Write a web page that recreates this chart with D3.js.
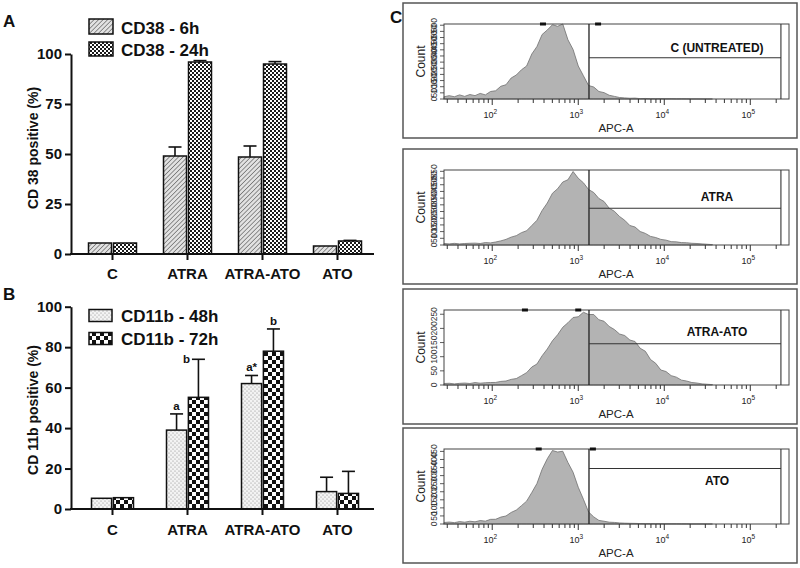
<!DOCTYPE html>
<html><head><meta charset="utf-8">
<script src="https://cdn.jsdelivr.net/npm/d3@7"></script>
<style>body{margin:0;background:#fff} svg{display:block;font-family:"Liberation Sans",Arial,sans-serif}</style>
</head><body><svg id="c" width="800" height="568"></svg>
<script>
// ---------- DATA ----------
const categories = ["C", "ATRA", "ATRA-ATO", "ATO"];
// Panel A
const seriesA = ["CD38 - 6h", "CD38 - 24h"];
const cd38_6h = [5.5, 49, 48.5, 4];
const cd38_6h_err = [0, 4.5, 5.5, 0];
const cd38_24h = [5.5, 96, 95, 6.5];
const cd38_24h_err = [0, 0.7, 1.2, 0.3];
const ticksA = [0, 25, 50, 75, 100];
// Panel B
const seriesB = ["CD11b - 48h", "CD11b - 72h"];
const cd11b_48h = [5.3, 39, 62, 8.6];
const cd11b_48h_err = [0, 8, 4, 7.1];
const cd11b_72h = [5.6, 55.2, 78, 7.7];
const cd11b_72h_err = [0, 18.8, 11, 10.9];
const ticksB = [0, 20, 40, 60, 80, 100];
const annot48h = ["", "a", "a*", ""];
const annot72h = ["", "b", "b", ""];
// Panel C (flow histograms, % of axis max, bins on log10 APC-A)
const binLog = [1.44,1.50,1.56,1.62,1.68,1.74,1.80,1.86,1.92,1.98,2.04,2.10,2.16,2.22,2.28,2.34,2.40,2.46,2.52,2.58,2.64,2.70,2.76,2.82,2.88,2.94,3.00,3.06,3.12,3.18,3.24,3.30,3.36,3.42,3.48,3.54,3.60,3.66,3.72,3.78,3.84,3.90,3.96,4.02,4.08,4.14,4.20,4.26,4.32,4.38,4.44,4.50,4.56];
const histC = [3,4.5,3,5.5,3.5,6,4.5,7.5,5.5,10, 11,17,19,28,32,39,44,60,70,86, 92,99,97,100,79,66,44,31,18,16, 10,8.5,5,3.5,2,1.5,1,1.2,0.5,0.7, 0.4,0.3,0.5,0.3,0.4,0.2,0.3,0.2,0.1,0.1, 0,0,0];
const histATRA = [2,1.5,2.2,1.5,2,2.3,2.5,2,3.2,2.8, 4,5.5,7.5,10.5,12.5,16.5,19,26,33,46, 56,69,75,84,87,98,89,83,74,70, 62,58,49,45,38,33,26,24,18,15.5, 11.5,10,7.5,6.5,4.5,4.2,3.2,3,2.3,2, 1.5,1,0.5];
const histATRAATO = [2,2.3,1.5,2.2,2.6,2,3.2,2.4,3,3.3, 3.4,4.8,5.3,7.5,8.6,12.5,16.5,24,28,39, 48,59,67,77,83,90,91,97,94,94, 87,85,78,74,68,66,60,58,49,45, 34,29,20,18,12.5,10.5,6.5,5.3,3.3,2.6, 1.5,1,0.5];
const histATO = [2,2.6,1.8,3.2,2.4,3.7,2.9,4.6,3.8,6.2, 6.3,9.2,10.7,15.4,18.6,24.5,30.5,42,54,73, 87,98,96,97,82,69,49,33,16,9.5, 4.8,3.7,2.4,2.1,1.4,1.1,0.9,0.8,0.6,0.5, 0.5,0.4,0.4,0.3,0.3,0.3,0.2,0.2,0.1,0.1, 0.1,0,0];
const histNames = ["C (UNTREATED)", "ATRA", "ATRA-ATO", "ATO"];
const countMax = [610, 560, 265, 465];
const gateLow = 1333, gateHigh = 227000;
const gateLevel = [55, 49, 55, 74];
const topMarks = [[389, 1700], [], [240, 1000], [347, 1480]];

// ---------- DRAW ----------
const svg = d3.select("#c");
const defs = svg.append("defs");
// patterns
const pHatch = defs.append("pattern").attr("id","hatch").attr("patternUnits","userSpaceOnUse")
  .attr("width",3.2).attr("height",3.2).attr("patternTransform","rotate(45)");
pHatch.append("rect").attr("width",3.2).attr("height",3.2).attr("fill","#e2e2e2");
pHatch.append("line").attr("x1",0).attr("y1",0).attr("x2",0).attr("y2",3.2).attr("stroke","#555").attr("stroke-width",1.2);
const pFine = defs.append("pattern").attr("id","fine").attr("patternUnits","userSpaceOnUse").attr("width",4).attr("height",4);
pFine.append("rect").attr("width",4).attr("height",4).attr("fill","#fff");
pFine.append("rect").attr("width",2).attr("height",2).attr("fill","#1a1a1a");
pFine.append("rect").attr("x",2).attr("y",2).attr("width",2).attr("height",2).attr("fill","#1a1a1a");
const pDots = defs.append("pattern").attr("id","dots").attr("patternUnits","userSpaceOnUse").attr("width",4).attr("height",4);
pDots.append("rect").attr("width",4).attr("height",4).attr("fill","#f3f3f3");
pDots.append("circle").attr("cx",1).attr("cy",1).attr("r",0.6).attr("fill","#888");
pDots.append("circle").attr("cx",3).attr("cy",3).attr("r",0.6).attr("fill","#888");
const pCoarse = defs.append("pattern").attr("id","coarse").attr("patternUnits","userSpaceOnUse").attr("width",8).attr("height",8);
pCoarse.append("rect").attr("width",8).attr("height",8).attr("fill","#fff");
pCoarse.append("rect").attr("width",4).attr("height",4).attr("fill","#111");
pCoarse.append("rect").attr("x",4).attr("y",4).attr("width",4).attr("height",4).attr("fill","#111");

function barPanel(cfg) {
  const g = svg.append("g");
  const y = d3.scaleLinear().domain([0, 100]).range([cfg.y0, cfg.y1]);
  const x0 = d3.scaleBand().domain(categories).range([75, 375]).paddingInner(cfg.pi).paddingOuter(cfg.pi / 2);
  const x1 = d3.scaleBand().domain([0, 1]).range([0, x0.bandwidth()]).paddingInner(cfg.gap);
  cfg.values.forEach((vals, si) => {
    const errs = cfg.errs[si];
    const cx = c => x0(c) + x1(si) + x1.bandwidth() / 2;
    const gg = g.append("g");
    const withErr = categories.filter((c, i) => errs[i] > 0);
    gg.selectAll("line.stem").data(withErr).join("line")
      .attr("x1", cx).attr("x2", cx)
      .attr("y1", c => y(vals[categories.indexOf(c)]))
      .attr("y2", c => y(vals[categories.indexOf(c)] + errs[categories.indexOf(c)]))
      .attr("stroke", "#111").attr("stroke-width", 1.6);
    gg.selectAll("line.cap").data(withErr).join("line")
      .attr("x1", c => cx(c) - 6.5).attr("x2", c => cx(c) + 6.5)
      .attr("y1", c => y(vals[categories.indexOf(c)] + errs[categories.indexOf(c)]))
      .attr("y2", c => y(vals[categories.indexOf(c)] + errs[categories.indexOf(c)]))
      .attr("stroke", "#111").attr("stroke-width", 1.6);
    gg.selectAll("rect").data(categories).join("rect")
      .attr("x", c => x0(c) + x1(si)).attr("width", x1.bandwidth())
      .attr("y", (c, i) => y(vals[i])).attr("height", (c, i) => cfg.y0 - y(vals[i]))
      .attr("fill", `url(#${cfg.patterns[si]})`).attr("stroke", "#111").attr("stroke-width", 1.5);
    if (cfg.annots) {
      const an = cfg.annots[si];
      gg.selectAll("text.an").data(categories.filter((c, i) => an[i])).join("text")
        .attr("x", c => {
          const i = categories.indexOf(c);
          return (cfg.annotLeft && cfg.annotLeft[si][i]) ? cx(c) - 8.5 : cx(c);
        })
        .attr("y", c => {
          const i = categories.indexOf(c);
          const yy = y(vals[i] + errs[i]);
          return (cfg.annotLeft && cfg.annotLeft[si][i]) ? yy + 4 : yy - 4;
        })
        .attr("text-anchor", c => {
          const i = categories.indexOf(c);
          return (cfg.annotLeft && cfg.annotLeft[si][i]) ? "end" : "middle";
        })
        .attr("font-size", 11.5).attr("font-weight", "bold").attr("fill", "#111")
        .text(c => an[categories.indexOf(c)]);
    }
  });
  // axes
  const ya = g.append("g").attr("transform", "translate(71,0)")
    .call(d3.axisLeft(y).tickValues(cfg.ticks).tickSize(6).tickSizeOuter(0).tickPadding(3));
  ya.select(".domain").attr("stroke", "#111").attr("stroke-width", 2);
  ya.selectAll(".tick line").attr("stroke", "#111").attr("stroke-width", 2);
  ya.selectAll(".tick text").attr("font-size", 15).attr("font-weight", "bold").attr("fill", "#111")
    .attr("font-family", '"Liberation Sans",Arial,sans-serif');
  const xa = g.append("g").attr("transform", `translate(0,${cfg.y0})`)
    .call(d3.axisBottom(x0).tickSize(6).tickSizeOuter(0).tickPadding(cfg.xpad));
  xa.select(".domain").remove();
  xa.selectAll(".tick line").attr("stroke", "#111").attr("stroke-width", 2);
  xa.selectAll(".tick text").attr("font-size", 15).attr("font-weight", "bold").attr("fill", "#111")
    .attr("font-family", '"Liberation Sans",Arial,sans-serif');
  g.append("line").attr("x1", 70).attr("x2", 374).attr("y1", cfg.y0).attr("y2", cfg.y0)
    .attr("stroke", "#111").attr("stroke-width", 2);
  // y label
  g.append("text").attr("transform", `translate(33,${cfg.labelY}) rotate(-90)`)
    .attr("text-anchor", "middle").attr("dominant-baseline", "central")
    .attr("font-size", 14).attr("font-weight", "bold").attr("fill", "#111").text(cfg.yLabel);
  // legend
  cfg.names.forEach((n, i) => {
    const L = cfg.legend[i];
    g.append("rect").attr("x", 89).attr("y", L.y).attr("width", L.w).attr("height", L.h)
      .attr("fill", `url(#${cfg.patterns[i]})`).attr("stroke", "#111").attr("stroke-width", 1.5);
    g.append("text").attr("x", 121).attr("y", L.base).attr("font-size", 17).attr("font-weight", "bold")
      .attr("fill", "#111").text(n);
  });
  g.append("text").attr("x", 3).attr("y", cfg.letterY).attr("font-size", 17).attr("font-weight", "bold")
    .attr("fill", "#111").text(cfg.letter);
}

barPanel({
  y0: 254, y1: 54, pi: 0.36, gap: 0.08, ticks: ticksA, xpad: 8.5,
  values: [cd38_6h, cd38_24h], errs: [cd38_6h_err, cd38_24h_err],
  patterns: ["hatch", "fine"], names: seriesA, yLabel: "CD 38 positive (%)", labelY: 148,
  legend: [{y: 19, h: 15, w: 24, base: 34}, {y: 42, h: 14, w: 24, base: 56}],
  letter: "A", letterY: 27
});
barPanel({
  y0: 509, y1: 306.7, pi: 0.44, gap: 0.08, ticks: ticksB, xpad: 9.5,
  values: [cd11b_48h, cd11b_72h], errs: [cd11b_48h_err, cd11b_72h_err],
  patterns: ["dots", "coarse"], names: seriesB, yLabel: "CD 11b positive (%)", labelY: 410,
  legend: [{y: 309.5, h: 12, w: 23, base: 321.5}, {y: 332.5, h: 12, w: 23, base: 344.5}],
  annots: [annot48h, annot72h], annotLeft: [[0,0,0,0],[0,1,0,0]],
  letter: "B", letterY: 300
});

// ---------- Panel C ----------
svg.append("text").attr("x", 390).attr("y", 23).attr("font-size", 17).attr("font-weight", "bold")
  .attr("fill", "#111").text("C");
const hists = [histC, histATRA, histATRAATO, histATO];
const boxTops = [3, 149, 289, 428];
const labelPct = [68, 64, 71, 57];
const xLog = d3.scaleLog().domain([27.5, 281800]).range([444, 789]);
hists.forEach((h, i) => {
  const top = boxTops[i];
  const g = svg.append("g");
  g.append("rect").attr("x", 403).attr("y", top).attr("width", 394).attr("height", 135)
    .attr("fill", "none").attr("stroke", "#555").attr("stroke-width", 1.5);
  const pt = top + 21, pb = top + 96;
  const yP = d3.scaleLinear().domain([0, 100]).range([pb, pt]);
  const yC = d3.scaleLinear().domain([0, countMax[i]]).range([pb, pt]);
  const area = d3.area().x((d, j) => xLog(10 ** binLog[j])).y0(pb).y1(d => yP(d));
  g.append("path").datum(h).attr("d", area).attr("fill", "#b3b3b3")
    .attr("stroke", "#6f6f6f").attr("stroke-width", 0.8);
  g.append("rect").attr("x", 444).attr("y", pt).attr("width", 345).attr("height", pb - pt)
    .attr("fill", "none").attr("stroke", "#444").attr("stroke-width", 1);
  // gate
  const gx0 = xLog(gateLow), gx1 = xLog(gateHigh), gy = yP(gateLevel[i]);
  g.append("line").attr("x1", gx0).attr("x2", gx0).attr("y1", pt).attr("y2", pb).attr("stroke", "#222").attr("stroke-width", 1.3);
  g.append("line").attr("x1", gx1).attr("x2", gx1).attr("y1", pt).attr("y2", pb).attr("stroke", "#333").attr("stroke-width", 1.1);
  g.append("line").attr("x1", gx0).attr("x2", gx1).attr("y1", gy).attr("y2", gy).attr("stroke", "#333").attr("stroke-width", 1.1);
  g.append("text").attr("x", 717).attr("y", yP(labelPct[i])).attr("text-anchor", "middle")
    .attr("dominant-baseline", "central").attr("font-size", 12).attr("font-weight", "bold")
    .attr("fill", "#111").text(histNames[i]);
  // top markers
  g.selectAll("rect.tm").data(topMarks[i]).join("rect")
    .attr("x", d => xLog(d) - 3).attr("y", pt - 1.5).attr("width", 6).attr("height", 3).attr("fill", "#111");
  // x ticks
  const tv = xLog.ticks();
  const isMajor = d => Math.abs(Math.log10(d) - Math.round(Math.log10(d))) < 1e-6;
  g.selectAll("line.xt").data(tv).join("line")
    .attr("x1", d => xLog(d)).attr("x2", d => xLog(d)).attr("y1", pb)
    .attr("y2", d => pb + (isMajor(d) ? 6 : 4)).attr("stroke", "#333").attr("stroke-width", 1);
  const lab = g.selectAll("text.xl").data(tv.filter(isMajor)).join("text")
    .attr("x", d => xLog(d) - 2).attr("y", pb + 19).attr("text-anchor", "middle")
    .attr("font-size", 9).attr("fill", "#222");
  lab.append("tspan").text("10");
  lab.append("tspan").attr("dy", -4).attr("font-size", 6.5).text(d => Math.round(Math.log10(d)));
  g.append("text").attr("x", 616).attr("y", pb + 33).attr("text-anchor", "middle")
    .attr("font-size", 11.5).attr("fill", "#222").text("APC-A");
  // y ticks (overlapping count labels)
  const yt = d3.range(0, countMax[i] + 1, 50);
  g.selectAll("line.yt").data(yt).join("line")
    .attr("x1", 440).attr("x2", 444).attr("y1", d => yC(d)).attr("y2", d => yC(d))
    .attr("stroke", "#333").attr("stroke-width", 0.8);
  g.selectAll("text.yl").data(yt).join("text")
    .attr("transform", d => `translate(434,${yC(d)}) rotate(-90)`)
    .attr("text-anchor", "middle").attr("dominant-baseline", "central")
    .attr("font-size", 8.5).attr("fill", "#333").text(d => d);
  g.append("text").attr("transform", `translate(421,${(pt + pb) / 2}) rotate(-90)`)
    .attr("text-anchor", "middle").attr("dominant-baseline", "central")
    .attr("font-size", 12).attr("fill", "#222").text("Count");
});
</script></body></html>
